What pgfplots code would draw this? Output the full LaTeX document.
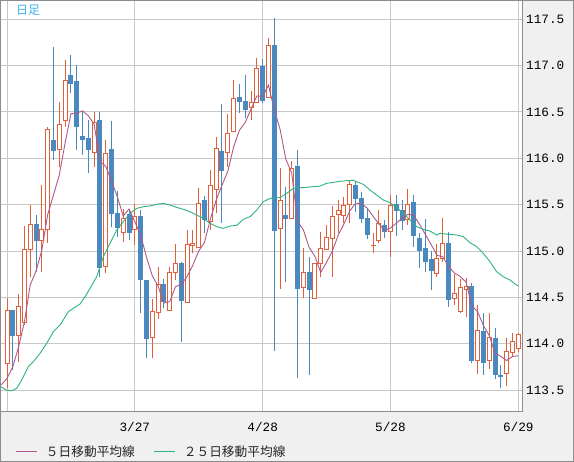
\documentclass[border=0pt]{standalone}
\usepackage{pgfplots}
\pgfplotsset{compat=1.18}
\usepackage{pgfplotstable}
\usepackage{fontspec}
\setmainfont{Liberation Sans}
\newfontfamily\cjk{Noto Sans CJK JP}
\newfontfamily\monof{Liberation Mono}
\definecolor{upc}{HTML}{E0603C}
\definecolor{dnc}{HTML}{4A88C0}
\definecolor{maf}{HTML}{B0588A}
\definecolor{mas}{HTML}{2EB57A}
\definecolor{gridc}{HTML}{C8C8C8}
\definecolor{framec}{HTML}{8C8C8C}
\definecolor{bgc}{HTML}{F0F0F0}
\definecolor{titc}{HTML}{3BB4E8}

% rising candles: index, open, high, low, close
\pgfplotstableread{
i O H L C
0 113.788 114.489 113.518 114.363
2 114.094 114.536 113.806 114.406
3 114.227 115.270 114.200 115.018
4 115.018 115.496 114.716 115.291
6 115.112 115.712 114.777 115.227
7 115.227 116.342 115.083 116.313
9 116.097 116.612 115.910 116.367
10 116.406 117.061 116.342 116.835
15 116.065 116.504 115.910 116.388
17 114.831 116.198 114.759 116.054
20 115.198 115.453 115.101 115.353
22 115.227 115.507 115.065 115.371
25 114.068 114.478 113.842 114.345
26 114.338 114.831 114.263 114.640
28 114.363 114.831 114.356 114.766
29 114.766 115.076 114.687 114.867
31 114.446 115.227 114.446 115.072
32 115.058 115.227 114.975 115.083
33 115.040 115.683 115.029 115.514
35 115.324 115.874 115.227 115.712
36 115.665 116.234 115.406 116.108
38 116.061 116.475 115.910 116.270
39 116.288 116.845 116.288 116.647
42 116.550 116.730 116.414 116.604
43 116.604 117.079 116.593 116.971
45 116.658 117.295 116.658 117.212
47 115.245 115.892 114.586 115.540
49 115.353 115.971 115.353 115.892
51 114.608 115.029 114.489 114.766
53 114.489 114.867 114.482 114.867
54 114.867 115.209 114.723 115.029
55 115.018 115.281 115.011 115.147
56 115.137 115.486 114.723 115.371
57 115.399 115.550 115.191 115.432
58 115.388 115.586 115.299 115.493
59 115.507 115.766 115.299 115.719
63 115.061 115.191 114.982 115.061
64 115.119 115.443 115.083 115.299
66 115.209 115.604 114.939 115.486
69 115.342 115.669 115.281 115.507
74 114.759 115.076 114.716 114.921
75 114.921 115.353 114.885 115.083
77 114.489 114.748 114.417 114.543
78 114.345 114.694 114.335 114.608
79 114.590 114.705 114.284 114.615
81 113.817 114.417 113.673 114.140
83 113.824 114.327 113.723 114.068
86 113.680 114.058 113.547 113.914
87 113.906 114.112 113.867 114.022
88 113.950 114.112 113.914 114.101
}\upt

% falling candles: index, open, high, low, close
\pgfplotstableread{
i O H L C
1 114.363 114.363 113.716 114.094
5 115.291 115.388 114.777 115.112
8 116.187 117.205 115.982 116.083
11 116.888 117.115 116.701 116.809
12 116.824 117.007 116.090 116.342
13 116.234 116.504 116.036 116.205
14 116.216 116.414 115.838 116.097
16 116.403 116.504 114.723 114.820
18 116.090 116.403 115.255 115.406
19 115.406 115.647 115.155 115.252
21 115.396 115.453 115.119 115.201
23 115.371 115.442 114.327 114.694
24 114.687 114.690 113.842 114.058
27 114.640 114.694 114.381 114.460
30 114.867 114.885 114.022 114.464
34 115.540 115.594 115.191 115.335
37 116.079 116.586 115.306 115.874
40 116.651 116.802 116.486 116.612
41 116.612 116.899 116.432 116.532
44 116.989 117.068 116.593 116.622
46 117.212 117.511 113.924 115.219
48 115.388 115.687 114.669 115.353
50 115.917 116.090 113.629 114.597
52 114.766 114.939 113.665 114.586
60 115.705 115.748 115.424 115.565
61 115.568 115.640 115.299 115.353
62 115.353 115.450 115.126 115.180
65 115.277 115.335 115.144 115.216
67 115.507 115.604 115.162 115.442
68 115.442 115.550 115.227 115.327
70 115.522 115.604 115.047 115.165
71 115.137 115.191 114.813 115.004
72 115.029 115.345 114.777 114.892
73 114.910 115.004 114.579 114.788
76 115.083 115.201 114.399 114.478
80 114.622 114.658 113.788 113.817
82 114.137 114.335 113.662 113.799
84 114.058 114.165 113.619 113.669
85 113.662 113.770 113.518 113.644
}\dnt

% 5-day moving average
\pgfplotstableread{
x y
-1.03 113.554
0 113.626
1 113.752
2 113.968
3 114.237
4 114.634
5 114.784
6 115.011
7 115.392
8 115.605
9 115.820
10 116.165
11 116.481
12 116.487
13 116.512
14 116.458
15 116.368
16 115.970
17 115.913
18 115.753
19 115.584
20 115.377
21 115.453
22 115.317
23 115.174
24 114.935
25 114.734
26 114.622
27 114.439
28 114.454
29 114.616
30 114.639
31 114.726
32 114.850
33 115.000
34 115.094
35 115.343
36 115.550
37 115.709
38 115.860
39 116.122
40 116.302
41 116.387
42 116.533
43 116.673
44 116.668
45 116.788
46 116.526
47 116.313
48 115.989
49 115.843
50 115.320
51 115.230
52 115.039
53 114.942
54 114.769
55 114.879
56 115.000
57 115.169
58 115.294
59 115.432
60 115.516
61 115.512
62 115.462
63 115.376
64 115.292
65 115.222
66 115.248
67 115.301
68 115.354
69 115.396
70 115.385
71 115.289
72 115.179
73 115.071
74 114.954
75 114.938
76 114.832
77 114.763
78 114.727
79 114.665
80 114.412
81 114.345
82 114.196
83 114.088
84 113.899
85 113.864
86 113.819
87 113.863
88 113.870
}\mafive

% 25-day moving average
\pgfplotstableread{
x y
-1.03 113.536
-0.06 113.500
0.80 113.493
1.66 113.518
2.52 113.608
3.67 113.752
4.53 113.806
5.68 113.896
6.83 114.004
7.97 114.129
9.12 114.201
10.56 114.345
11.13 114.371
12.56 114.428
13.43 114.507
14.29 114.597
15.43 114.723
16.58 114.939
17.73 115.083
18.88 115.227
20.02 115.317
21.17 115.406
22.32 115.460
23.46 115.478
24.61 115.486
25.76 115.504
26.90 115.514
28.05 115.496
29.20 115.471
30.34 115.450
31.50 115.424
32.64 115.388
33.79 115.353
34.94 115.299
36.09 115.263
37.23 115.245
38.38 115.270
39.53 115.277
40.67 115.342
41.82 115.371
42.97 115.442
44.11 115.532
45.27 115.568
46.99 115.576
48.14 115.622
49.28 115.676
50.43 115.683
51.58 115.687
52.72 115.694
53.87 115.701
55.02 115.730
56.16 115.741
57.31 115.752
58.46 115.759
59.61 115.763
60.18 115.748
61.33 115.719
62.48 115.658
63.63 115.604
64.77 115.550
65.92 115.522
67.07 115.470
68.21 115.406
69.36 115.335
70.51 115.263
71.65 115.234
72.81 115.216
73.95 115.173
74.53 115.191
75.68 115.183
77.40 115.173
78.54 115.155
79.69 115.090
80.84 115.047
81.98 114.975
83.13 114.885
84.28 114.777
85.42 114.723
86.57 114.687
87.72 114.633
88.00 114.623
}\matwfive

\pgfplotsset{
  bar/.style n args={2}{forget plot, draw=none, mark=none,
    error bars/.cd, y dir=plus, y explicit, error mark=none,
    error bar style={draw=#1, line width=#2, line cap=butt}},
  edge/.style={forget plot, only marks, mark=-, mark size=2.5pt,
    mark options={draw=#1, fill=#1, line width=1pt}},
}

\begin{document}
\begin{tikzpicture}
\useasboundingbox (0,0) rectangle (574pt,462pt);
\fill[bgc] (0,0) rectangle (574pt,462pt);
\draw[framec, line width=1pt] (0.5pt,0.5pt) rectangle (573.5pt,461.5pt);
\begin{axis}[
  at={(1pt,50pt)}, anchor=south west,
  scale only axis, width=522pt, height=411pt,
  xmin=-1.033, xmax=88.81, ymin=113.264, ymax=117.697,
  axis background/.style={fill=white},
  axis line style={framec, line width=1pt},
  grid=major, major grid style={gridc, line width=1pt},
  major tick length=0pt,
  xtick={0,22,44,66,88}, xticklabels={,3/27,4/28,5/28,6/29},
  ytick={113.5,114,114.5,115,115.5,116,116.5,117,117.5},
  yticklabels={113.5,114.0,114.5,115.0,115.5,116.0,116.5,117.0,117.5},
  yticklabel pos=right,
  ticklabel style={font=\monof\fontsize{12.7}{14}\selectfont, text=black},
  xticklabel style={anchor=north, inner sep=0pt, yshift=-10pt},
  yticklabel style={anchor=west, inner sep=0pt, xshift=3pt},
  legend columns=2,
  legend cell align=left,
  legend style={at={(0.0287,-0.0973)}, anchor=west, draw=none, fill=none,
    inner sep=0pt, outer sep=0pt,
    font=\cjk\fontsize{12.7}{14}\selectfont, text=black!85,
    nodes={inner sep=0pt},
    /tikz/every odd column/.append style={column sep=8pt},
    /tikz/every even column/.append style={column sep=19pt}},
  legend image code/.code={\draw[#1, line width=1pt] (0pt,0pt) -- (21pt,0pt);},
]
% falling candles: wick, body
\addplot[bar={dnc}{1pt}] table[x=i, y=L, y error plus expr=\thisrow{H}-\thisrow{L}] {\dnt};
\addplot[bar={dnc}{5pt}] table[x=i, y=C, y error plus expr=\thisrow{O}-\thisrow{C}] {\dnt};
\addplot[edge=dnc] table[x=i, y=O] {\dnt};
\addplot[edge=dnc] table[x=i, y=C] {\dnt};

% rising candles: wick, body outline, white interior
\addplot[bar={upc}{1pt}] table[x=i, y=L, y error plus expr=\thisrow{H}-\thisrow{L}] {\upt};
\addplot[bar={upc}{5pt}] table[x=i, y=O, y error plus expr=\thisrow{C}-\thisrow{O}] {\upt};
\addplot[edge=upc] table[x=i, y=O] {\upt};
\addplot[edge=upc] table[x=i, y=C] {\upt};
\addplot[bar={white}{3pt}] table[x=i, y expr=\thisrow{O}+0.0054,
  y error plus expr={max(\thisrow{C}-\thisrow{O}-0.0108,0)}] {\upt};

% moving averages
\addplot[maf, line width=0.9pt, mark=none] table[x=x,y=y] {\mafive};
\addlegendentry{５日移動平均線}
\addplot[mas, line width=0.9pt, mark=none] table[x=x,y=y] {\matwfive};
\addlegendentry{２５日移動平均線}
\end{axis}
\node[anchor=west, inner sep=0pt, text=titc, font=\cjk\fontsize{12}{14}\selectfont] at (16pt,452pt) {日足};
\end{tikzpicture}
\end{document}
